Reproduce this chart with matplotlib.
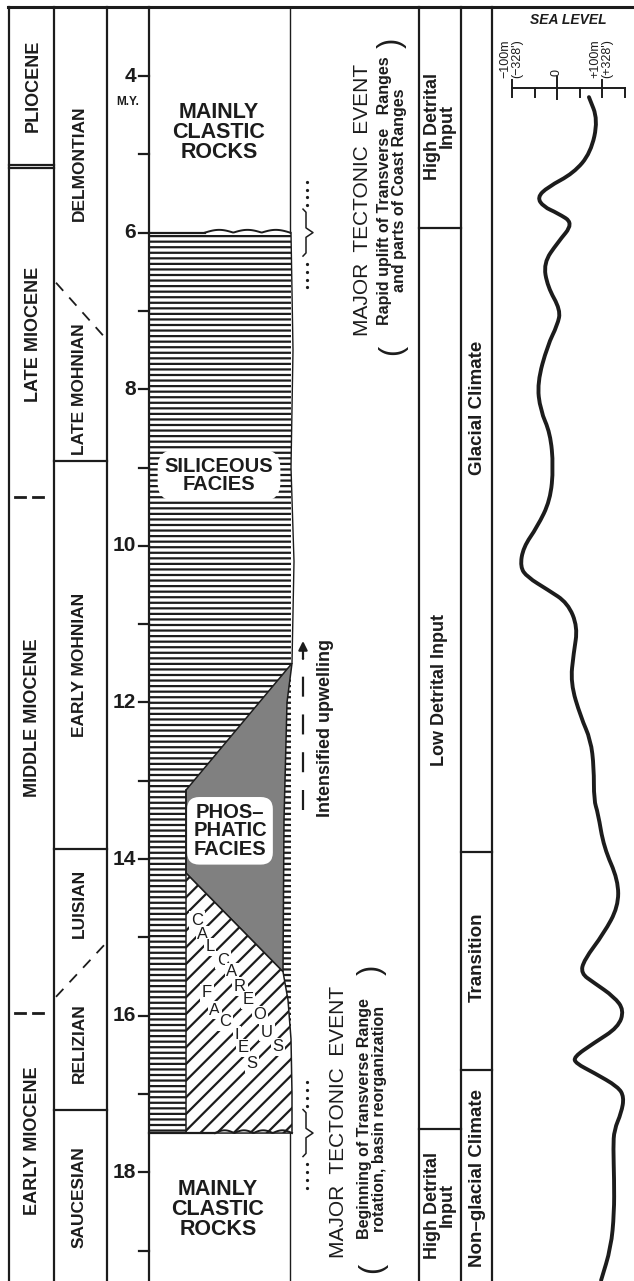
"""Miocene stratigraphy of coastal California: stages, facies, events and sea level."""

import numpy as np
import matplotlib

matplotlib.use("Agg")
import matplotlib.pyplot as plt
from matplotlib.patches import Polygon, Rectangle, PathPatch
from matplotlib.path import Path

plt.rcParams["font.family"] = ["Liberation Sans", "DejaVu Sans"]
plt.rcParams["hatch.linewidth"] = 1.6

# ---------------------------------------------------------------- data (ages in M.Y.)
AGE_MAJOR = [4, 6, 8, 10, 12, 14, 16, 18]
AGE_MINOR = [5, 7, 9, 11, 13, 15, 17, 19]

EPOCH_NAMES = ["PLIOCENE", "LATE MIOCENE", "MIDDLE MIOCENE", "EARLY MIOCENE"]
EPOCH_LABEL_AGES = [4.13, 7.3, 12.2, 17.6]
PLIOCENE_BASE = [5.14, 5.18]
EPOCH_UNCERTAIN = [9.38, 15.97]

STAGE_NAMES = ["DELMONTIAN", "LATE MOHNIAN", "EARLY MOHNIAN", "LUISIAN", "RELIZIAN", "SAUCESIAN"]
STAGE_LABEL_AGES = [5.11, 8.0, 11.52, 14.57, 16.35, 18.32]
STAGE_BOUNDS = [8.92, 13.87, 17.2]
STAGE_DIAGONALS = [(6.64, 7.37), (15.76, 15.06)]  # age at left edge, age at right edge

SILICEOUS_TOP = 6.0
SILICEOUS_BASE = 17.5
PHOS_AGES = [11.5, 13.12, 14.18, 15.44, 13.5, 12.0]
CALC_AGES = [14.18, 15.44, 15.8, 16.3, 17.0, 17.5, 17.5]

EVENT_AGES = [6.0, 17.5]
UPWELLING_AGES = (13.37, 11.18)

DETRITAL_BOUNDS = [5.94, 17.45]
DETRITAL_LABELS = ["High Detrital\nInput", "Low Detrital Input", "High Detrital\nInput"]
DETRITAL_LABEL_AGES = [4.64, 11.84, 18.42]

CLIMATE_BOUNDS = [13.91, 16.7]
CLIMATE_LABELS = ["Glacial Climate", "Transition", "Non\u2013glacial Climate"]
CLIMATE_LABEL_AGES = [8.24, 15.26, 18.07]

SEA_AGES = [4.27, 4.56, 4.98, 5.24, 5.42, 5.55, 5.67, 5.75, 5.88, 6.13,
            6.39, 6.69, 6.99, 7.18, 7.44, 7.92, 8.27, 8.56, 8.99, 9.42,
            9.76, 10.02, 10.27, 10.40, 10.56, 10.73, 11.04, 11.37, 11.75, 12.19,
            12.48, 12.83, 13.25, 13.41, 13.85, 14.27, 14.61, 14.95, 15.29, 15.46,
            15.58, 15.76, 15.93, 16.15, 16.35, 16.53, 16.61, 16.73, 16.91, 17.04,
            17.24, 17.46, 17.68, 18.10, 18.52, 18.96, 19.38]
SEA_LEVEL_M = [71, 91, 75, 37, -21, -44, -30, 1, 37, 1,
               -30, -21, 8, 1, -21, -44, -37, -15, -8, -15,
               -44, -75, -82, -66, -21, 24, 46, 37, 30, 53,
               75, 82, 82, 91, 104, 136, 136, 104, 60, 53,
               82, 127, 149, 136, 82, 37, 42, 82, 136, 149,
               143, 127, 125, 127, 127, 120, 98]

# ---------------------------------------------------------------- layout (pixels)
W, H = 634, 1281
PX_PER_MY = 78.3
Y_AGE4 = 76
AGE_TOP = 4 - Y_AGE4 / PX_PER_MY
AGE_BOTTOM = 4 + (H - Y_AGE4) / PX_PER_MY
FRAME_AGE = AGE_TOP + 7 / PX_PER_MY

X_LEFT, X_EPOCH, X_STAGE, X_LITH_L, X_LITH_R = 9, 54, 107, 149, 290
X_TECT_R, X_DETR_R, X_CLIM_R = 419, 461, 492
X_FACIES_SPLIT = 186

INK = "#1c1c1c"
LW = 1.6

fig = plt.figure(figsize=(W / 100, H / 100), dpi=100)
ax = fig.add_axes([0, 0, 1, 1])
ax.set_xlim(0, W)
ax.set_ylim(AGE_BOTTOM, AGE_TOP)
ax.axis("off")


def hline(x0, x1, age, **kw):
    kw.setdefault("color", INK)
    kw.setdefault("lw", LW)
    ax.plot([x0, x1], [age, age], **kw)


# column frame
ax.plot([8, W], [FRAME_AGE, FRAME_AGE], color=INK, lw=2.2)
for x in [X_LEFT, X_EPOCH, X_STAGE, X_LITH_L, X_TECT_R, X_DETR_R, X_CLIM_R]:
    ax.plot([x, x], [AGE_BOTTOM, FRAME_AGE], color=INK, lw=LW)
ax.plot([X_LITH_R, X_LITH_R], [FRAME_AGE, SILICEOUS_TOP], color=INK, lw=1.0)
ax.plot([X_LITH_R, X_LITH_R], [SILICEOUS_BASE, AGE_BOTTOM], color=INK, lw=1.0)

# epochs
for age in PLIOCENE_BASE:
    hline(X_LEFT, X_EPOCH, age)
for age in EPOCH_UNCERTAIN:
    hline(15, 25, age, lw=2)
    hline(33, 43, age, lw=2)
for name, age in zip(EPOCH_NAMES, EPOCH_LABEL_AGES):
    ax.text(33, age, name, rotation=90, ha="center", va="center",
            fontsize=13, weight="bold", color=INK)

# stages
for age in STAGE_BOUNDS:
    hline(X_EPOCH, X_STAGE, age)
for left, right in STAGE_DIAGONALS:
    ax.plot([X_EPOCH + 2, X_STAGE], [left, right], color=INK, lw=1.3,
            dashes=(6, 5))
for name, age in zip(STAGE_NAMES, STAGE_LABEL_AGES):
    ax.text(79, age, name, rotation=90, ha="center", va="center",
            fontsize=12.5, weight="bold", color=INK)

# age scale
for age in AGE_MAJOR + AGE_MINOR:
    hline(139, X_LITH_L, age)
for age in AGE_MAJOR:
    ax.text(136, age, str(age), ha="right", va="center", fontsize=15,
            weight="bold", color=INK)
ax.text(128, 4.33, "M.Y.", ha="center", va="center", fontsize=8.5,
        weight="bold", color=INK)

# facies
ax.add_patch(Rectangle((X_LITH_L, SILICEOUS_TOP), 291 - X_LITH_L,
                       SILICEOUS_BASE - SILICEOUS_TOP, facecolor="white",
                       edgecolor=INK, hatch="---", lw=0))
phos_x = [292, X_FACIES_SPLIT, X_FACIES_SPLIT, 283, 284, 287]
ax.add_patch(Polygon(list(zip(phos_x, PHOS_AGES)), closed=True,
                     facecolor="#808080", edgecolor=INK, lw=1.1))
calc_x = [X_FACIES_SPLIT, 283, 288, 291, 292, 292, X_FACIES_SPLIT]
ax.add_patch(Polygon(list(zip(calc_x, CALC_AGES)), closed=True,
                     facecolor="white", edgecolor=INK, hatch="//", lw=0))
ax.plot(calc_x, CALC_AGES, color=INK, lw=1.1)
ax.plot([X_FACIES_SPLIT, X_FACIES_SPLIT], [PHOS_AGES[1], SILICEOUS_BASE],
        color=INK, lw=1.1)
ax.plot([291, 293, 291, 294, 292], [SILICEOUS_TOP, 7.5, 9.0, 10.2, 11.5],
        color=INK, lw=1.0)


def wavy(age, x0, x1, bumps):
    xs = np.linspace(x0, x1, 80)
    ys = age - 0.035 * np.abs(np.sin((xs - x0) / (x1 - x0) * bumps * np.pi))
    ax.plot([X_LITH_L, x0], [age, age], color=INK, lw=1.6)
    ax.plot(xs, ys, color=INK, lw=1.4)


wavy(SILICEOUS_TOP, 205, 290, 3)
wavy(SILICEOUS_BASE, 215, 292, 4)

big = dict(ha="center", va="center", weight="bold", color=INK)
ax.text(219, 4.72, "MAINLY\nCLASTIC\nROCKS", fontsize=15.5, linespacing=0.95, **big)
ax.text(218, 18.48, "MAINLY\nCLASTIC\nROCKS", fontsize=15.5, linespacing=0.95, **big)
ax.text(219, 9.1, "SILICEOUS\nFACIES", fontsize=14.5, linespacing=0.95,
        bbox=dict(boxstyle="round,pad=0.35,rounding_size=0.9", fc="white",
                  ec="none"), **big)
ax.text(230, 13.64, "PHOS\u2013\nPHATIC\nFACIES", fontsize=14.5, linespacing=0.95,
        bbox=dict(boxstyle="round,pad=0.3,rounding_size=0.6", fc="white",
                  ec="none"), **big)

calc_letters = [("C", 197, 14.78), ("A", 203, 14.97), ("L", 210, 15.12),
                ("C", 223, 15.29), ("A", 232, 15.44), ("R", 240, 15.63),
                ("E", 248, 15.80), ("O", 260, 15.99), ("U", 267, 16.21),
                ("S", 278, 16.40), ("F", 207, 15.71), ("A", 215, 15.93),
                ("C", 225, 16.08), ("I", 237, 16.25), ("E", 243, 16.41),
                ("S", 252, 16.61)]
for letter, x, age in calc_letters:
    ax.text(x, age, letter, ha="center", va="center", fontsize=12,
            color=INK,
            bbox=dict(boxstyle="square,pad=0.1", fc="white", ec="none"))

# tectonic events
for ev in EVENT_AGES:
    dot_ages = [ev - 0.65, ev - 0.55, ev - 0.45, ev - 0.35,
                ev + 0.4, ev + 0.5, ev + 0.6, ev + 0.7]
    ax.plot([307] * len(dot_ages), dot_ages, ls="none", marker="o", ms=1.3,
            color=INK)
    ax.plot([303, 306, 306, 313, 306, 306, 303],
            [ev - 0.3, ev - 0.26, ev - 0.06, ev, ev + 0.06, ev + 0.26, ev + 0.3],
            color=INK, lw=1.1)

ax.text(362, 5.58, "MAJOR  TECTONIC  EVENT", rotation=90, ha="center",
        va="center", fontsize=15, color=INK)
ax.text(392, 5.46, "Rapid uplift of Transverse   Ranges\nand parts of Coast Ranges",
        rotation=90, ha="center", va="center", fontsize=11.5, weight="bold",
        linespacing=1.0, color=INK)
ax.text(392, 7.5, "(", rotation=90, ha="center", va="center", fontsize=22,
        color=INK)
ax.text(392, 3.58, ")", rotation=90, ha="center", va="center", fontsize=22,
        color=INK)

ax.text(339, 17.36, "MAJOR  TECTONIC  EVENT", rotation=90, ha="center",
        va="center", fontsize=15, color=INK)
ax.text(372, 17.32, "Beginning of Transverse Range\nrotation, basin reorganization",
        rotation=90, ha="center", va="center", fontsize=11.5, weight="bold",
        linespacing=1.0, color=INK)
ax.text(372, 19.22, "(", rotation=90, ha="center", va="center", fontsize=22,
        color=INK)
ax.text(372, 15.42, ")", rotation=90, ha="center", va="center", fontsize=22,
        color=INK)

# upwelling arrow
ax.plot([303, 303], [UPWELLING_AGES[0], UPWELLING_AGES[1] + 0.25], color=INK,
        lw=1.6, dashes=(9, 8))
ax.annotate("", xy=(303, UPWELLING_AGES[1]), xytext=(303, UPWELLING_AGES[1] + 0.3),
            arrowprops=dict(arrowstyle="-|>", color=INK, lw=1.6,
                            mutation_scale=13))
ax.text(325, 12.33, "Intensified upwelling", rotation=90, ha="center",
        va="center", fontsize=13, weight="bold", color=INK)

# detrital input and climate
for age in DETRITAL_BOUNDS:
    hline(X_TECT_R, X_DETR_R, age)
for label, age in zip(DETRITAL_LABELS, DETRITAL_LABEL_AGES):
    ax.text(440, age, label, rotation=90, ha="center", va="center",
            fontsize=13, weight="bold", linespacing=0.85, color=INK)
for age in CLIMATE_BOUNDS:
    hline(X_DETR_R, X_CLIM_R, age)
for label, age in zip(CLIMATE_LABELS, CLIMATE_LABEL_AGES):
    ax.text(477, age, label, rotation=90, ha="center", va="center",
            fontsize=13.5, weight="bold", color=INK)

# sea level panel
px_per_m = 0.45
sl_left = -100 - (512 - X_CLIM_R) / px_per_m
sl_right = sl_left + (W - X_CLIM_R) / px_per_m
ax_sl = fig.add_axes([X_CLIM_R / W, 0, (W - X_CLIM_R) / W, 1])
ax_sl.set_xlim(sl_left, sl_right)
ax_sl.set_ylim(AGE_BOTTOM, AGE_TOP)
ax_sl.axis("off")

scale_age = 4.153
ax_sl.plot([-100, 150], [scale_age, scale_age], color=INK, lw=1.4)
for m in [-100, 100]:
    ax_sl.plot([m, m], [4.05, 4.265], color=INK, lw=1.4)
ax_sl.plot([0, 0], [4.013, 4.29], color=INK, lw=1.4)
for m in [-50, 50, 150]:
    ax_sl.plot([m, m], [scale_age, 4.265], color=INK, lw=1.4)
ax_sl.text(-101, 4.03, "\u2212100m\n(\u2212328')", rotation=90, ha="center",
           va="bottom", fontsize=9, linespacing=1.0, color=INK)
ax_sl.text(0, 4.0, "0", rotation=90, ha="center", va="bottom", fontsize=9,
           color=INK)
ax_sl.text(99, 4.03, "+100m\n(+328')", rotation=90, ha="center",
           va="bottom", fontsize=9, linespacing=1.0, color=INK)
ax_sl.text(25, 3.285, "SEA LEVEL", ha="center", va="center", fontsize=10,
           weight="bold", style="italic", color=INK)

# draw the read points as a smooth quadratic-Bezier path through their midpoints
pts = np.column_stack([SEA_LEVEL_M, SEA_AGES]).astype(float)
mids = (pts[:-1] + pts[1:]) / 2
verts = [pts[0], mids[0]]
codes = [Path.MOVETO, Path.LINETO]
for i in range(1, len(pts) - 1):
    verts += [pts[i], mids[i]]
    codes += [Path.CURVE3, Path.CURVE3]
verts.append(pts[-1])
codes.append(Path.LINETO)
ax_sl.add_patch(PathPatch(Path(verts, codes), fill=False, edgecolor=INK,
                          lw=2.8, capstyle="round", joinstyle="round"))

fig.savefig("out.png", dpi=100)
